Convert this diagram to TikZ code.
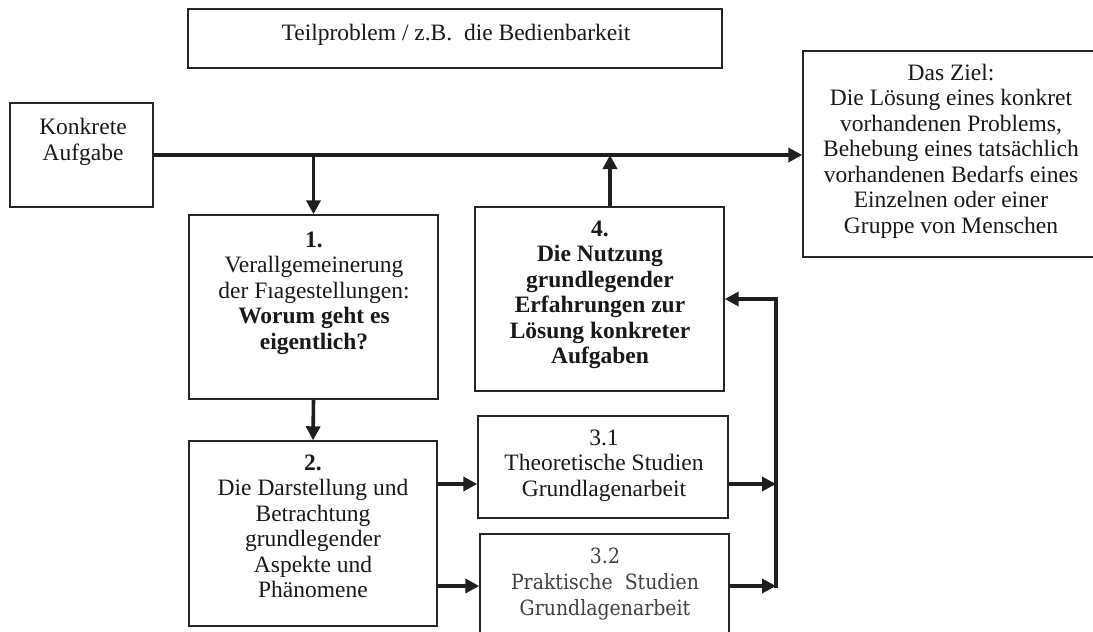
\documentclass[tikz,border=0pt]{standalone}
\usepackage{fontspec}
\setmainfont{Liberation Serif}
\newfontfamily\prakfont[FakeStretch=0.9]{DejaVu Serif}
\usetikzlibrary{arrows.meta,calc}
\begin{document}
\begin{tikzpicture}[x=1pt,y=-1pt,
  frame/.style={draw=black!85, line width=1.4pt, inner sep=0pt},
  txt/.style={align=center, inner sep=0pt, anchor=base, text=black!90, font=\fontsize{23.5}{25.5}\selectfont},
  conn/.style={line width=3.6pt, draw=black!88},
  arr/.style={conn, -{Triangle[length=14pt,width=14pt]}},
]
\useasboundingbox[fill=white] (0,0) rectangle (1093,632);
% boxes
\node[frame, minimum width=534pt, minimum height=59pt] (top) at (455,38.5) {};
\node[frame, minimum width=143pt, minimum height=104pt] (konk) at (81.5,155) {};
\node[frame, minimum width=293pt, minimum height=206pt] (ziel) at (949.5,154) {};
\node[frame, minimum width=249pt, minimum height=184pt] (b1) at (313.5,307) {};
\node[frame, minimum width=249pt, minimum height=184pt] (b4) at (599.5,299) {};
\node[frame, minimum width=248pt, minimum height=185pt] (b2) at (313,533.5) {};
\node[frame, minimum width=250pt, minimum height=102pt] (b31) at (603,467) {};
\node[frame, minimum width=249pt, minimum height=116pt] (b32) at (604.5,592) {};
% texts (anchor = baseline of last line)
\node[txt] (ttop) at (456,40) {Teilproblem / z.B.\ \ die Bedienbarkeit};
\node[txt] (tkonk) at (83,160) {Konkrete\\Aufgabe};
\node[txt] (tziel) at (951,233) {Das Ziel:\\Die Lösung eines konkret\\vorhandenen Problems,\\Behebung eines tatsächlich\\vorhandenen Bedarfs eines\\Einzelnen oder einer\\Gruppe von Menschen};
\node[txt] (tb1) at (314,349) {\textbf{1.}\\Verallgemeinerung\\der Fıagestellungen:\\\textbf{Worum geht es}\\\textbf{eigentlich?}};
\node[txt] (tb4) at (600,363.5) {\textbf{4.}\\\textbf{Die Nutzung}\\\textbf{grundlegender}\\\textbf{Erfahrungen zur}\\\textbf{Lösung konkreter}\\\textbf{Aufgaben}};
\node[txt] (tb2) at (313,597.5) {\textbf{2.}\\Die Darstellung und\\Betrachtung\\grundlegender\\Aspekte und\\Phänomene};
\node[txt] (tb31) at (604,496) {3.1\\Theoretische Studien\\Grundlagenarbeit};
\node[txt, text=black!75, font=\prakfont\fontsize{21}{26}\selectfont] (tb32) at (605,615) {3.2\\Praktische\ \ Studien\\Grundlagenarbeit};
% connectors
\coordinate (b4top) at ($(b4.north)+(10.5,0)$);
\coordinate (r1) at (776,484);
\coordinate (r2) at (776,586);
\coordinate (r0) at (776,299);
\draw[arr] (konk.east) -- (konk.east -| ziel.west);
\draw[arr] (konk.east -| b1.north) -- (b1.north);
\draw[arr] (b4top) -- (b4top |- konk.east);
\draw[arr] (b1.south) -- (b2.north);
\draw[arr] (b2.east |- r1) -- (b31.west |- r1);
\draw[arr] (b2.east |- r2) -- (b32.west |- r2);
\draw[arr] (b31.east |- r1) -- (r1);
\draw[arr] (b32.east |- r2) -- (r2);
\draw[arr, line cap=rect] (r2) -- (r0) -- (b4.east |- r0);
\end{tikzpicture}
\end{document}
